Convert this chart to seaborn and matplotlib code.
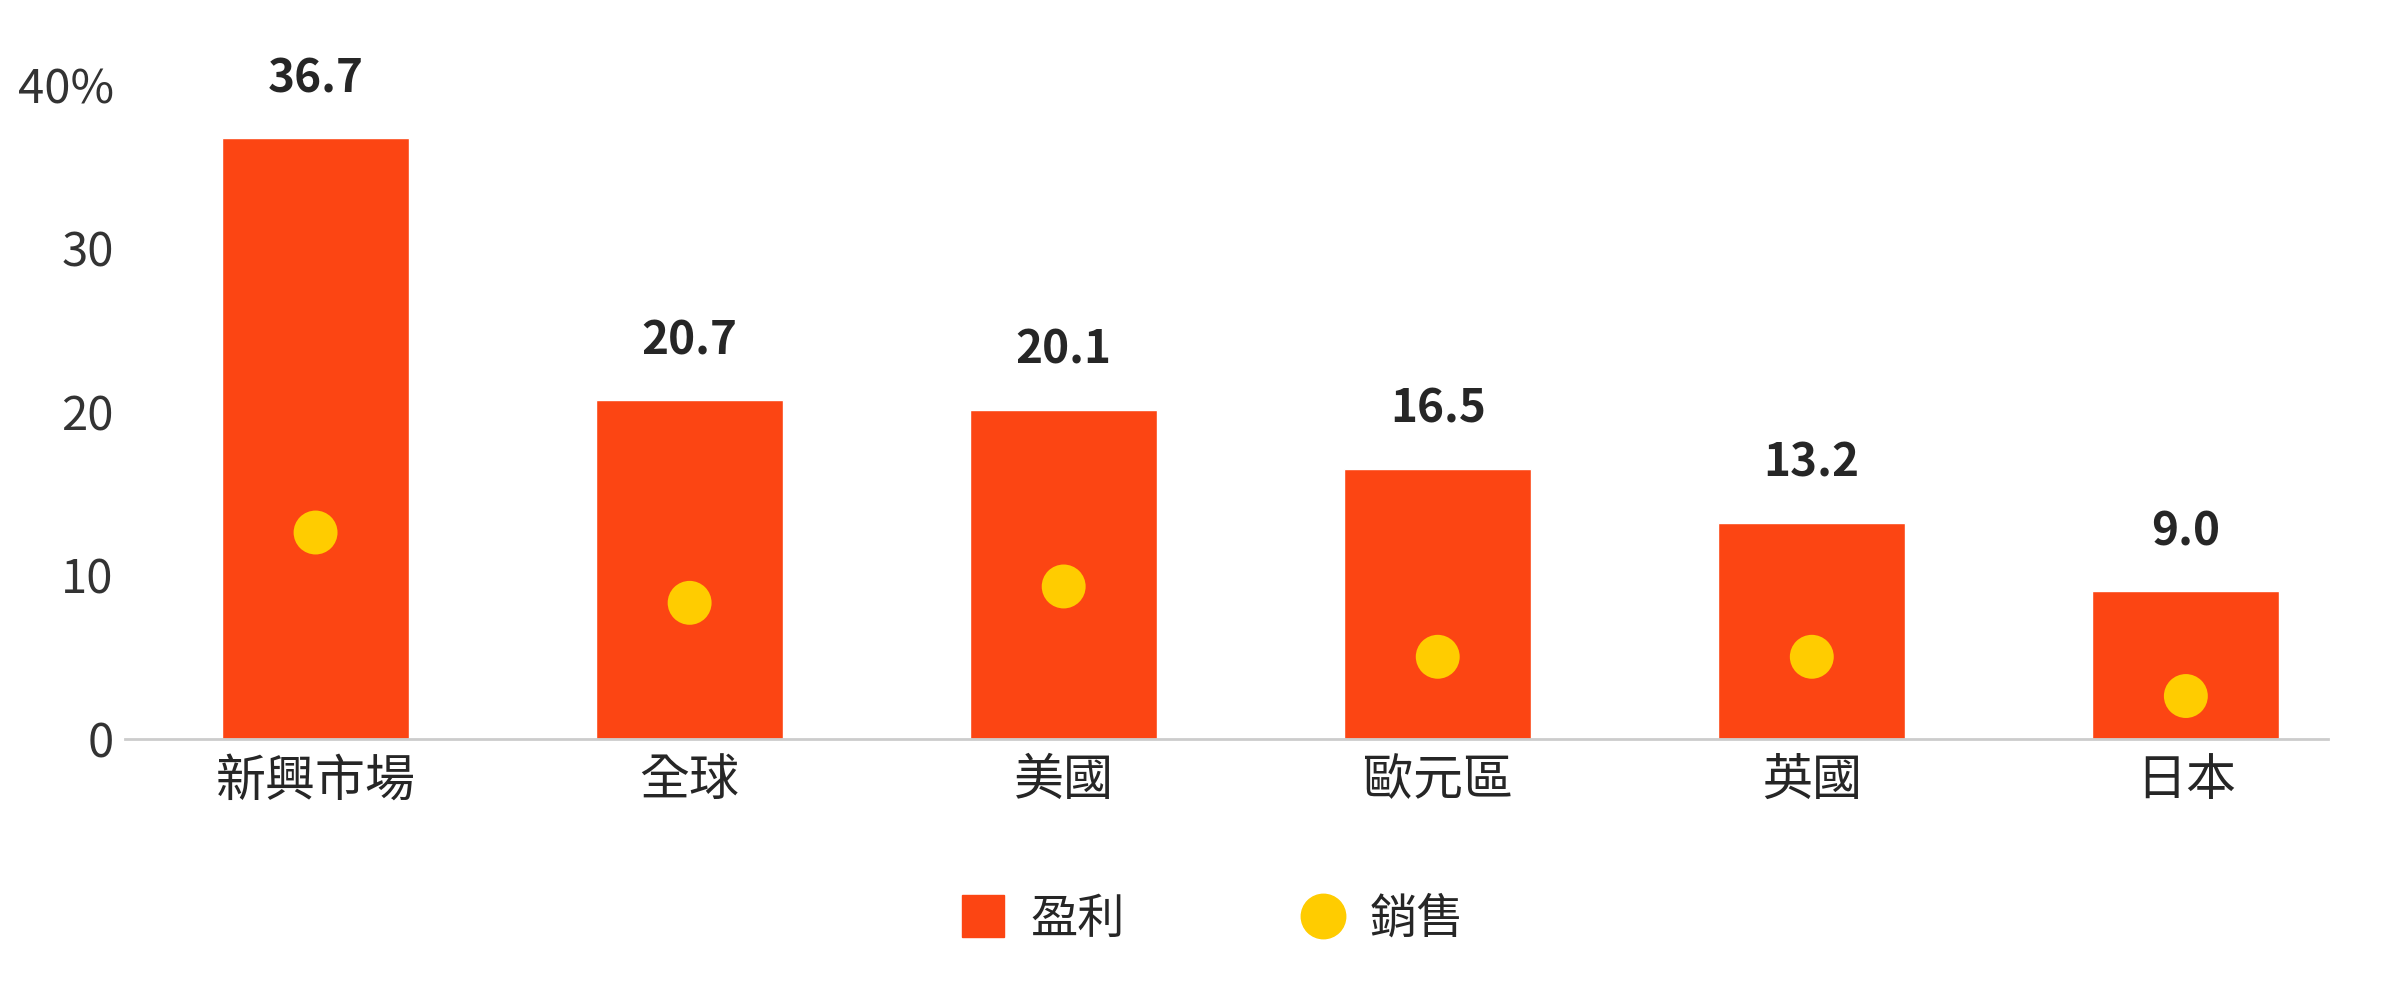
import matplotlib
matplotlib.use("Agg")
import matplotlib.pyplot as plt
import seaborn as sns
import pandas as pd
from matplotlib.lines import Line2D

categories = ["新興市場", "全球", "美國", "歐元區", "英國", "日本"]
profit = [36.7, 20.7, 20.1, 16.5, 13.2, 9.0]
sales = [12.6, 8.3, 9.3, 5.0, 5.0, 2.6]
yticks = [0, 10, 20, 30, 40]
yticklabels = ["0", "10", "20", "30", "40%"]

sns.set_style("white")
plt.rcParams['font.family'] = ['Noto Sans CJK TC', 'DejaVu Sans']

df = pd.DataFrame({"cat": categories, "profit": profit, "sales": sales})
fig = plt.figure(figsize=(24, 9.94), dpi=100)
ax = fig.add_axes([0.052, 0.257, 0.918, 0.658])
sns.barplot(data=df, x="cat", y="profit", color="#FC4513", width=0.5, saturation=1, ax=ax)
sns.scatterplot(data=df, x="cat", y="sales", color="#FFCC00", s=1000, edgecolor="none", ax=ax, zorder=3)
for i, v in enumerate(profit):
    ax.text(i, v + 2.2, f"{v:.1f}", ha="center", va="bottom", fontsize=33, fontweight="bold", clip_on=False)
ax.set_xlim(-0.51, 5.38)
ax.set_ylim(0, 40)
ax.set_yticks(yticks)
ax.set_yticklabels(yticklabels, fontsize=34, color="#333333")
ax.tick_params(axis="x", labelsize=36, pad=12, length=0)
ax.tick_params(axis="y", length=0, pad=8)
ax.set_xlabel("")
ax.set_ylabel("")
for s in ["top", "right", "left"]:
    ax.spines[s].set_visible(False)
ax.spines["bottom"].set_color("#cccccc")
ax.spines["bottom"].set_linewidth(2)

handles = [Line2D([], [], marker="s", color="#FC4513", linestyle="none", markersize=30),
           Line2D([], [], marker="o", color="#FFCC00", linestyle="none", markersize=32)]
fig.legend(handles, ["盈利", "銷售"], loc="center", bbox_to_anchor=(0.5, 0.075), ncol=2,
           frameon=False, fontsize=34, handletextpad=0.0, columnspacing=3.2)
fig.savefig("out.png")
